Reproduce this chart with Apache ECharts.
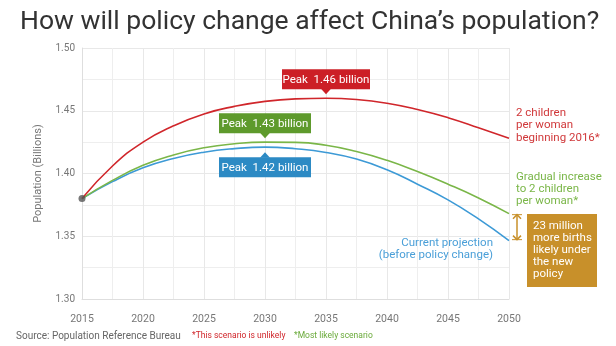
<!DOCTYPE html>
<html>
<head>
<meta charset="utf-8">
<script src="https://cdn.jsdelivr.net/npm/echarts@6/dist/echarts.min.js"></script>
<style>
html,body{margin:0;padding:0;background:#fff;}
#c{width:616px;height:346px;}
</style>
</head>
<body>
<div id="c"></div>
<script>
// ---- data ----
const years = [2015, 2017.5, 2020, 2022.5, 2025, 2027.5, 2030, 2032.5, 2035, 2037.5, 2040, 2042.5, 2045, 2047.5, 2050];
const twoChildValues = [1.380, 1.406, 1.425, 1.438, 1.4475, 1.4535, 1.4575, 1.4595, 1.460, 1.459, 1.456, 1.451, 1.4445, 1.4365, 1.428];
const gradualValues  = [1.380, 1.3945, 1.4065, 1.4148, 1.4205, 1.4237, 1.425, 1.4248, 1.4225, 1.4175, 1.4105, 1.4015, 1.3915, 1.3805, 1.368];
const currentValues  = [1.380, 1.3935, 1.4045, 1.412, 1.417, 1.4198, 1.421, 1.4197, 1.4168, 1.4115, 1.403, 1.3915, 1.379, 1.3638, 1.3465];
const startPoint = [2015, 1.38];
const peakYears  = [2035, 2030, 2030];
const peakValues = [1.460, 1.425, 1.421];
const peakLabels = ['Peak  1.46 billion', 'Peak  1.43 billion', 'Peak  1.42 billion'];
const xTicks = [2015, 2020, 2025, 2030, 2035, 2040, 2045, 2050];
const yTicks = ['1.30', '1.35', '1.40', '1.45', '1.50'];

const RED = '#d0262b', GREEN = '#7ab648', BLUE = '#3d9ad6', ORANGE = '#c8902a';
const BOX_RED = '#cc1f26', BOX_GREEN = '#5e9a2c', BOX_BLUE = '#2c8ac4';
const pair = v => years.map((y, i) => [y, v[i]]);

const chart = echarts.init(document.getElementById('c'));
const option = {
  animation: false,
  title: {
    text: 'How will policy change affect China\u2019s population?',
    left: 15, top: 4,
    textStyle: { fontFamily: 'Roboto', fontSize: 26.5, fontWeight: 'normal', color: '#333' }
  },
  grid: { left: 82, right: 107, top: 48, bottom: 47 },
  xAxis: {
    type: 'value', min: 2015, max: 2050, interval: 5,
    axisLine: { show: true, lineStyle: { color: '#dedede' } },
    axisTick: { show: false },
    minorTick: { show: false, splitNumber: 2 },
    minorSplitLine: { show: true, lineStyle: { color: '#eeeeee' } },
    splitLine: { show: true, lineStyle: { color: '#e8e8e8' } },
    axisLabel: { margin: 15, fontFamily: 'Roboto', fontSize: 10.5, color: '#777',
      formatter: v => xTicks.includes(v) ? String(v) : '' }
  },
  yAxis: {
    type: 'value', min: 1.30, max: 1.50, interval: 0.05,
    name: 'Population (Billions)', nameLocation: 'middle', nameGap: 38,
    nameTextStyle: { fontFamily: 'Roboto', fontSize: 11, color: '#777' },
    axisLine: { show: true, lineStyle: { color: '#dedede' } },
    axisTick: { show: false },
    minorTick: { show: false, splitNumber: 2 },
    minorSplitLine: { show: true, lineStyle: { color: '#eeeeee' } },
    splitLine: { show: true, lineStyle: { color: '#e8e8e8' } },
    axisLabel: { margin: 7, fontFamily: 'Roboto', fontSize: 10, color: '#777',
      formatter: v => yTicks[Math.round((v - 1.30) / 0.05)] }
  },
  series: [
    { type: 'line', data: pair(currentValues), smooth: true, showSymbol: false,
      lineStyle: { color: BLUE, width: 1.6 }, z: 3 },
    { type: 'line', data: pair(gradualValues), smooth: true, showSymbol: false,
      lineStyle: { color: GREEN, width: 1.6 }, z: 3 },
    { type: 'line', data: pair(twoChildValues), smooth: true, showSymbol: false,
      lineStyle: { color: RED, width: 1.6 }, z: 3 },
    { type: 'scatter', data: [startPoint], symbolSize: 7,
      itemStyle: { color: '#555' }, z: 5 }
  ]
};
chart.setOption(option);

// ---- annotations ----
const px = (x, y) => chart.convertToPixel({ gridIndex: 0 }, [x, y]);
const g = [];
const boxColors = [BOX_RED, BOX_GREEN, BOX_BLUE];
const boxW = [88, 92, 92];
peakYears.forEach((yr, i) => {
  const p = px(yr, peakValues[i]);
  const cx = p[0];
  const above = i < 2;
  const h = 20;
  let top, tri;
  if (above) {
    top = p[1] - 9 - h;
    const b = top + h;
    tri = [[cx - 5, b - 0.5], [cx + 5, b - 0.5], [cx, b + 5]];
  } else {
    top = p[1] + 10;
    tri = [[cx - 5, top + 0.5], [cx + 5, top + 0.5], [cx, top - 5]];
  }
  g.push({ type: 'rect', shape: { x: cx - boxW[i] / 2, y: top, width: boxW[i], height: h },
    style: { fill: boxColors[i] }, z: 10 });
  g.push({ type: 'polygon', shape: { points: tri }, style: { fill: boxColors[i] }, z: 10 });
  g.push({ type: 'text', x: cx, y: top + h / 2 + 0.5, z: 11,
    style: { text: peakLabels[i], fill: '#fff', font: '11.5px Roboto', align: 'center', verticalAlign: 'middle' } });
});

const endRed = px(2050, twoChildValues[14]);
const endGreen = px(2050, gradualValues[14]);
const endBlue = px(2050, currentValues[14]);
const rx = endRed[0] + 7;

g.push({ type: 'text', x: rx, y: 107, style: { text: '2 children\nper woman\nbeginning 2016*', fill: '#d0383a',
  font: '11.5px Roboto', lineHeight: 12.3 } });
g.push({ type: 'text', x: rx, y: 171, style: { text: 'Gradual increase\nto 2 children\nper woman*', fill: '#7ab648',
  font: '11.5px Roboto', lineHeight: 12 } });
g.push({ type: 'text', x: 493, y: 237, style: { text: 'Current projection\n(before policy change)', fill: '#4a9fd8',
  font: '11.5px Roboto', lineHeight: 12.3, align: 'right' } });

// double arrow
const ax = endGreen[0] + 8;
g.push({ type: 'line', shape: { x1: ax, y1: endGreen[1] + 2, x2: ax, y2: endBlue[1] - 2 },
  style: { stroke: ORANGE, lineWidth: 1.5 } });
g.push({ type: 'polyline', shape: { points: [[ax - 4, endGreen[1] + 5], [ax, endGreen[1] + 1], [ax + 4, endGreen[1] + 5]] },
  style: { stroke: ORANGE, lineWidth: 1.5, fill: null } });
g.push({ type: 'polyline', shape: { points: [[ax - 4, endBlue[1] - 5], [ax, endBlue[1] - 1], [ax + 4, endBlue[1] - 5]] },
  style: { stroke: ORANGE, lineWidth: 1.5, fill: null } });
g.push({ type: 'line', shape: { x1: ax - 5, y1: endGreen[1] + 1, x2: ax + 5, y2: endGreen[1] + 1 }, style: { stroke: ORANGE, lineWidth: 1 } });
g.push({ type: 'line', shape: { x1: ax - 5, y1: endBlue[1] - 1, x2: ax + 5, y2: endBlue[1] - 1 }, style: { stroke: ORANGE, lineWidth: 1 } });

g.push({ type: 'rect', shape: { x: 527, y: 214, width: 70, height: 73 }, style: { fill: ORANGE } });
g.push({ type: 'text', x: 533, y: 220, style: { text: '23 million\nmore births\nlikely under\nthe new\npolicy', fill: '#fff',
  font: '11.5px Roboto', lineHeight: 12.1 } });

// footer
g.push({ type: 'text', x: 16, y: 331, style: { text: 'Source: Population Reference Bureau', fill: '#666', font: '10px Roboto' } });
g.push({ type: 'text', x: 192, y: 331.5, style: { text: '*This scenario is unlikely', fill: '#d0262b', font: '8.5px Roboto' } });
g.push({ type: 'text', x: 294, y: 331.5, style: { text: '*Most likely scenario', fill: '#6aaa3a', font: '8.5px Roboto' } });

chart.setOption({ graphic: g });
</script>
</body>
</html>
